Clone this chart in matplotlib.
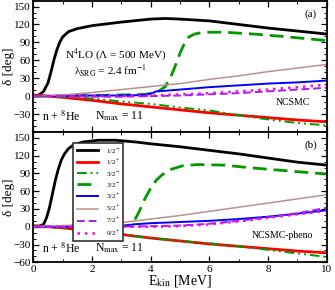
import numpy as np
import matplotlib.pyplot as plt
from matplotlib.ticker import MultipleLocator

plt.rcParams['font.family'] = ['Liberation Serif', 'DejaVu Serif']
plt.rcParams['mathtext.fontset'] = 'stix'

# ---------------- data ----------------
# panel (a) NCSMC
a_half_m_E = [0, 0.2, 0.35, 0.5, 0.6, 0.7, 0.8, 0.9, 1.0, 1.2, 1.5, 2.0, 3.0, 4.0, 4.5, 5.0, 6.0, 7.0, 8.0, 9.0, 10.0]
a_half_m = [0, 2, 8, 22, 40, 60, 77, 90, 99, 108, 113, 118, 124, 129, 130, 129, 126, 120, 114, 109, 104]

E_lin = [0, 1, 2, 3, 4, 5, 6, 7, 8, 9, 10]
a_half_p = [2, -2, -7, -13, -18, -23, -28, -32, -36, -40, -43]
a_3m_dd = [0, -1, -4, -9, -13, -19, -24, -32, -39, -45, -49]
a_5p = [0, 2, 6, 11, 16, 21, 28, 34, 41, 47, 53]
a_7p = [0, 0, -1, -1, 0, 1, 3, 5, 8, 11, 14]
a_9p = [0, 0, 0, 0, 1, 3, 5, 8, 11, 15, 19]

a_3m_d_E = [0, 2, 3, 3.8, 4.1, 4.3, 4.5, 4.7, 4.85, 5.0, 5.15, 5.3, 5.5, 5.8, 6.5, 7.5, 8.5, 10.0]
a_3m_d = [0, 1, 2, 3, 5, 9, 16, 34, 52, 72, 88, 99, 104, 107, 107, 104, 100, 93]
a_3p_E = [0, 2, 3, 3.8, 4.05, 4.2, 4.5, 5.0, 6.0, 7.0, 8.0, 9.0, 10.0]
a_3p = [0, 1, 1, 2, 5, 8, 9, 11, 15, 18, 21, 23, 26]

# panel (b) NCSMC-pheno
b_half_m_E = [0, 0.2, 0.35, 0.45, 0.55, 0.65, 0.75, 0.85, 0.95, 1.05, 1.2, 1.4, 1.7, 2.2, 2.8, 3.5, 4.0, 5.0, 6.0, 7.0, 8.0, 9.0, 10.0]
b_half_m = [0, 1, 4, 15, 32, 55, 78, 97, 112, 122, 132, 139, 143, 146, 146, 143, 140, 135, 129, 123, 116, 109, 104]
b_half_p = [2, -2, -7, -13, -19, -24, -29, -33, -37, -41, -44]
b_3m_dd = [0, -1, -7, -13, -19, -24, -28, -33, -39, -45, -51]
b_5p = [0, 2, 4, 7, 13, 19, 26, 33, 40, 47, 54]
b_7p = [0, 0, 0, 0, 1, 2, 5, 10, 16, 23, 32]
b_9p = [0, 0, 0, 0, 0, 1, 4, 9, 15, 21, 27]

b_3m_d_E = [0, 2, 3.0, 3.3, 3.5, 3.65, 3.8, 4.0, 4.2, 4.4, 4.7, 5.1, 5.6, 6.5, 7.3, 8.5, 10.0]
b_3m_d = [0, 0, 1, 3, 15, 30, 47, 65, 79, 88, 97, 103, 105, 104, 100, 95, 89]
b_3p_E = [0, 2, 3.0, 3.2, 3.4, 3.7, 4.0, 5.0, 6.0, 7.0, 8.0, 9.0, 10.0]
b_3p = [0, 0, 1, 2, 4, 5, 6, 8, 10, 13, 17, 22, 28]

labels = [r'1/2$^{-}$', r'1/2$^{+}$', r'3/2$^{-}$', r'3/2$^{-}$',
          r'3/2$^{+}$', r'5/2$^{+}$', r'7/2$^{+}$', r'9/2$^{+}$']

green = '#009a00'
purple = '#a020f0'

fig = plt.figure(figsize=(3.35, 2.9), dpi=100)
ax1 = fig.add_axes([0.0994, 0.545, 0.8758, 0.453])
ax2 = fig.add_axes([0.0994, 0.0955, 0.8758, 0.4495])


def draw(ax, d):
    hm_E, hm, hp, dd, d_E, dsh, p3_E, p3, p5, p7, p9 = d
    ax.plot(hm_E, hm, color='black', lw=2.0, label=labels[0])
    ax.plot(E_lin, hp, color='red', lw=2.0, label=labels[1])
    ax.plot(E_lin, dd, color=green, lw=1.4, dashes=(5, 2, 1, 2, 1, 2), label=labels[2])
    ax.plot(d_E, dsh, color=green, lw=2.0, dashes=(5, 2.5), label=labels[3])
    ax.plot(p3_E, p3, color='blue', lw=1.4, label=labels[4])
    ax.plot(E_lin, p5, color='#bc8f8f', lw=1.1, label=labels[5])
    ax.plot(E_lin, p7, color=purple, lw=1.4, dashes=(4, 2), label=labels[6])
    ax.plot(E_lin, p9, color='magenta', lw=1.8, dashes=(1, 2), label=labels[7])

    ax.set_xlim(0, 10)
    ax.set_ylim(-60, 160)
    ax.xaxis.set_major_locator(MultipleLocator(2))
    ax.xaxis.set_minor_locator(MultipleLocator(1))
    ax.yaxis.set_major_locator(MultipleLocator(30))
    ax.yaxis.set_minor_locator(MultipleLocator(10))
    ax.tick_params(which='both', direction='in', top=True, right=True, labelsize=8, pad=2)
    ax.tick_params(which='major', length=4.5, width=0.9)
    ax.tick_params(which='minor', length=2.5, width=0.7)
    for s in ax.spines.values():
        s.set_linewidth(1.3)
    ax.set_ylabel('δ [deg]', fontsize=9.5)
    ax.yaxis.set_label_coords(-0.064, 0.5)


draw(ax1, (a_half_m_E, a_half_m, a_half_p, a_3m_dd, a_3m_d_E, a_3m_d,
           a_3p_E, a_3p, a_5p, a_7p, a_9p))
draw(ax2, (b_half_m_E, b_half_m, b_half_p, b_3m_dd, b_3m_d_E, b_3m_d,
           b_3p_E, b_3p, b_5p, b_7p, b_9p))

ax1.tick_params(labelbottom=False)
ax1.set_yticks([-30, 0, 30, 60, 90, 120, 150])
ax1.set_yticks(np.arange(-60, 161, 10), minor=True)
ax2.set_xlabel(r'E$_{\rm kin}$ [MeV]', fontsize=10, labelpad=-1)

# annotations panel (a)
ax1.text(2.82, 69, r'N$^{4}$LO (Λ = 500 MeV)', fontsize=8, ha='center', va='center')
ax1.text(2.63, 42, r'λ$_{\rm SRG}$ = 2.4 fm$^{-1}$', fontsize=8, ha='center', va='center')
ax1.text(8.85, -11, 'NCSMC', fontsize=7, ha='center', va='center')
ax1.text(9.46, 138, '(a)', fontsize=8, ha='center', va='center')
ax1.text(0.94, -34, r'n + $^{8}$He', fontsize=8.5, ha='center', va='center')
ax1.text(2.94, -34, r'N$_{\rm max}$ = 11', fontsize=8.5, ha='center', va='center')

# annotations panel (b)
ax2.text(8.5, -14, 'NCSMC-pheno', fontsize=7, ha='center', va='center')
ax2.text(9.46, 138, '(b)', fontsize=8, ha='center', va='center')
ax2.text(0.94, -37, r'n + $^{8}$He', fontsize=8.5, ha='center', va='center')
ax2.text(2.94, -37, r'N$_{\rm max}$ = 11', fontsize=8.5, ha='center', va='center')

leg = ax2.legend(loc='upper left', bbox_to_anchor=(0.136, 0.915), borderaxespad=0,
                 fontsize=5, handlelength=3.0, labelspacing=0.42, handletextpad=1.2,
                 borderpad=0.5, fancybox=False, framealpha=1)
leg.get_frame().set_edgecolor('#333333')
leg.get_frame().set_linewidth(1.2)

fig.savefig('out.png', dpi=100)
